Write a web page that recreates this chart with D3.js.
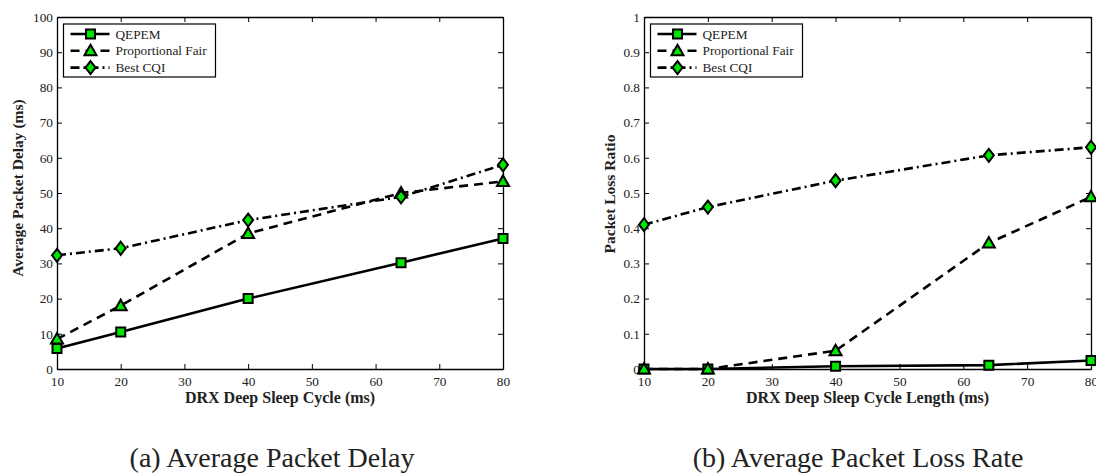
<!DOCTYPE html>
<html>
<head>
<meta charset="utf-8">
<script src="https://cdn.jsdelivr.net/npm/d3@7"></script>
<style>
  body { margin: 0; background: #fff; }
  svg text { font-family: "Liberation Serif", "Times New Roman", Times, serif !important; fill: #222; }
</style>
</head>
<body>
<div id="chart"></div>
<script>
// x values (DRX deep sleep cycle, ms)
var cycles = [10, 20, 40, 64, 80];
var seriesNames = ["QEPEM", "Proportional Fair", "Best CQI"];

// (a) average packet delay (ms)
var delayQepem = [5.8, 10.5, 20.0, 30.2, 37.1];
var delayPf = [8.5, 18.0, 38.5, 50.0, 53.3];
var delayCqi = [32.3, 34.3, 42.3, 48.9, 58.0];

// (b) packet loss ratio
var lossQepem = [0.0, 0.0, 0.008, 0.011, 0.024];
var lossPf = [0.0, 0.0, 0.052, 0.358, 0.489];
var lossCqi = [0.41, 0.46, 0.535, 0.607, 0.63];

var xTicks = [10, 20, 30, 40, 50, 60, 70, 80];
var delayTicks = [0, 10, 20, 30, 40, 50, 60, 70, 80, 90, 100];
var lossTicks = [0, 0.1, 0.2, 0.3, 0.4, 0.5, 0.6, 0.7, 0.8, 0.9, 1];

var serif = "'Liberation Serif', 'Times New Roman', serif";

var svg = d3.select("#chart").append("svg")
    .attr("width", 1096)
    .attr("height", 474)
    .attr("font-family", serif);

var green = "#00e600";
var styles = [
    { dash: null, marker: "square" },
    { dash: "9,6", marker: "triangle" },
    { dash: "9,4,2,4", marker: "diamond" }
];

function markerPath(type) {
    if (type === "square") return "M-4.5,-4.5h9v9h-9z";
    if (type === "triangle") return "M0,-6L6,4.5L-6,4.5z";
    return "M0,-6.5L5,0L0,6.5L-5,0z";
}

function styleAxis(sel) {
    sel.attr("font-family", serif);
    sel.select(".domain").attr("stroke", "#000").attr("stroke-width", 1.3);
    sel.selectAll(".tick line").attr("stroke", "#000").attr("stroke-width", 1);
    sel.selectAll(".tick text").attr("font-size", 13.3).attr("fill", "#222");
}

function drawPanel(opts) {
    var g = svg.append("g");
    var x = d3.scaleLinear().domain([10, 80]).range([opts.left, opts.right]);
    var y = d3.scaleLinear().domain(opts.yDomain).range([369, 17]);

    // axes with inward ticks on all four sides
    g.append("g").attr("transform", "translate(0,369)")
        .call(d3.axisBottom(x).tickValues(xTicks).tickSizeInner(-5).tickSizeOuter(0).tickPadding(8))
        .call(styleAxis);
    g.append("g").attr("transform", "translate(0,17)")
        .call(d3.axisTop(x).tickValues(xTicks).tickSizeInner(-5).tickSizeOuter(0).tickFormat(""))
        .call(styleAxis);
    g.append("g").attr("transform", "translate(" + opts.left + ",0)")
        .call(d3.axisLeft(y).tickValues(opts.yTicks).tickSizeInner(-5).tickSizeOuter(0).tickPadding(4).tickFormat(opts.fmt))
        .call(styleAxis);
    g.append("g").attr("transform", "translate(" + opts.right + ",0)")
        .call(d3.axisRight(y).tickValues(opts.yTicks).tickSizeInner(-5).tickSizeOuter(0).tickFormat(""))
        .call(styleAxis);

    var line = d3.line().x(function (d, i) { return x(cycles[i]); }).y(function (d) { return y(d); });

    opts.series.forEach(function (vals, k) {
        g.append("path")
            .attr("d", line(vals))
            .attr("fill", "none")
            .attr("stroke", "#000")
            .attr("stroke-width", 2.6)
            .attr("stroke-dasharray", styles[k].dash);
    });
    opts.series.forEach(function (vals, k) {
        g.selectAll(null).data(vals).enter().append("path")
            .attr("d", markerPath(styles[k].marker))
            .attr("transform", function (d, i) { return "translate(" + x(cycles[i]) + "," + y(d) + ")"; })
            .attr("fill", green)
            .attr("stroke", "#000")
            .attr("stroke-width", 2);
    });

    // legend
    var lx = opts.left + 6.5;
    var lg = g.append("g");
    lg.append("rect")
        .attr("x", lx).attr("y", 24).attr("width", 152).attr("height", 53)
        .attr("fill", "#fff").attr("stroke", "#000").attr("stroke-width", 1.2);
    seriesNames.forEach(function (name, k) {
        var ry = 34 + k * 16.8;
        lg.append("line")
            .attr("x1", lx + 7).attr("x2", lx + 46).attr("y1", ry).attr("y2", ry)
            .attr("stroke", "#000").attr("stroke-width", 2.6)
            .attr("stroke-dasharray", styles[k].dash);
        lg.append("path")
            .attr("d", markerPath(styles[k].marker))
            .attr("transform", "translate(" + (lx + 27) + "," + ry + ")")
            .attr("fill", green).attr("stroke", "#000").attr("stroke-width", 2);
        lg.append("text")
            .attr("x", lx + 52).attr("y", ry + 4.5)
            .attr("font-size", 13.3)
            .text(name);
    });

    // axis titles
    var cx = (opts.left + opts.right) / 2;
    g.append("text")
        .attr("x", cx).attr("y", 403)
        .attr("text-anchor", "middle")
        .attr("font-size", 16).attr("font-weight", "bold")
        .text(opts.xLabel);
    g.append("text")
        .attr("transform", "translate(" + opts.yLabelX + "," + opts.yLabelY + ") rotate(-90)")
        .attr("text-anchor", "middle")
        .attr("font-size", 15.5).attr("font-weight", "bold")
        .text(opts.yLabel);
    g.append("text")
        .attr("x", opts.captionX).attr("y", 467)
        .attr("text-anchor", "middle")
        .attr("font-size", 28)
        .text(opts.caption);
}

drawPanel({
    left: 57, right: 503,
    yDomain: [0, 100], yTicks: delayTicks, fmt: d3.format("d"),
    series: [delayQepem, delayPf, delayCqi],
    xLabel: "DRX Deep Sleep Cycle (ms)",
    yLabel: "Average Packet Delay (ms)", yLabelX: 23, yLabelY: 188,
    caption: "(a) Average Packet Delay", captionX: 272
});

drawPanel({
    left: 644, right: 1091,
    yDomain: [0, 1], yTicks: lossTicks, fmt: function (d) { return d === 0 ? "0" : d === 1 ? "1" : d3.format(".1f")(d); },
    series: [lossQepem, lossPf, lossCqi],
    xLabel: "DRX Deep Sleep Cycle Length (ms)",
    yLabel: "Packet Loss Ratio", yLabelX: 615, yLabelY: 194,
    caption: "(b) Average Packet Loss Rate", captionX: 858
});
</script>
</body>
</html>
